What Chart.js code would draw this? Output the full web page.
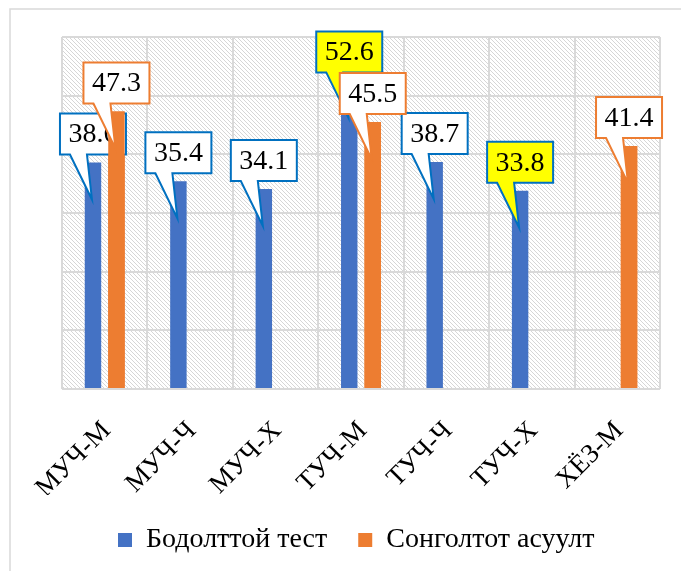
<!DOCTYPE html>
<html>
<head>
<meta charset="utf-8">
<script src="https://cdn.jsdelivr.net/npm/chart.js@4.4.1/dist/chart.umd.min.js"></script>
<style>
  html, body { margin: 0; padding: 0; background: #ffffff; }
  canvas { display: block; }
</style>
</head>
<body>
<canvas id="scoreChart" width="681" height="571"></canvas>
<script>
// Ангилал ба утгууд
const categories = ['МУЧ-М', 'МУЧ-Ч', 'МУЧ-Х', 'ТУЧ-М', 'ТУЧ-Ч', 'ТУЧ-Х', 'ХЁЗ-М'];
const seriesNames = ['Бодолттой тест', 'Сонголтот асуулт'];
const testScores = [38.6, 35.4, 34.1, 52.6, 38.7, 33.8, null];
const choiceScores = [47.3, null, null, 45.5, null, null, 41.4];
const yTicks = [0, 10, 20, 30, 40, 50, 60];

// Загвар
const fontFamily = "'Liberation Serif', 'Times New Roman', serif";
const barColors = ['#4472C4', '#ED7D31'];
const calloutBorders = ['#0070C0', '#ED7D31'];
const gridColor = '#d9d9d9';
const highlightFill = '#ffff00';
const highlighted = [[3, 5], []];  // шараар тодруулсан шошго (цувааны индекс)

// Диагональ зураастай дэвсгэр
function makeHatch(ctx) {
    const c = document.createElement('canvas');
    c.width = 8; c.height = 8;
    const g = c.getContext('2d');
    g.fillStyle = '#ffffff';
    g.fillRect(0, 0, 8, 8);
    g.fillStyle = '#d6d6d6';
    for (let i = 0; i < 8; i++) {
        g.fillRect(i, i, 1, 1);
        g.fillRect((i + 4) % 8, i, 1, 1);
    }
    return ctx.createPattern(c, 'repeat');
}

const backgroundPlugin = {
    id: 'background',
    beforeDraw(chart) {
        const {ctx, chartArea} = chart;
        ctx.save();
        ctx.fillStyle = '#ffffff';
        ctx.fillRect(0, 0, chart.width, chart.height);
        ctx.strokeStyle = gridColor;
        ctx.lineWidth = 1.5;
        ctx.strokeRect(10, 9, chart.width + 20, chart.height + 20);
        ctx.fillStyle = makeHatch(ctx);
        ctx.fillRect(chartArea.left, chartArea.top, chartArea.right - chartArea.left, chartArea.bottom - chartArea.top);
        ctx.restore();
    },
    afterLayout(chart) {
        // легендийг зүүн тийш бага зэрэг шилжүүлэх
        chart.legend.left = 87;
    }
};

// Сум бүхий тайлбар хайрцаг
function drawCallout(ctx, x, top, text, border, fill) {
    const w = 66, h = 41;
    const left = x - w / 2;
    const bottom = top - 8;
    const upper = bottom - h;
    ctx.save();
    ctx.beginPath();
    ctx.moveTo(left, upper);
    ctx.lineTo(left + w, upper);
    ctx.lineTo(left + w, bottom);
    ctx.lineTo(x - 6, bottom);
    ctx.lineTo(x - 1, top + 37);
    ctx.lineTo(x - 23, bottom);
    ctx.lineTo(left, bottom);
    ctx.closePath();
    ctx.fillStyle = fill;
    ctx.fill();
    ctx.lineWidth = 2;
    ctx.lineJoin = 'miter';
    ctx.strokeStyle = border;
    ctx.stroke();
    ctx.fillStyle = '#000000';
    ctx.font = '28px ' + fontFamily;
    ctx.textAlign = 'center';
    ctx.textBaseline = 'middle';
    ctx.fillText(text, x, upper + h / 2 + 1);
    ctx.restore();
}

function drawDatasetCallouts(chart, di) {
    const meta = chart.getDatasetMeta(di);
    const values = chart.data.datasets[di].data;
    meta.data.forEach((bar, i) => {
        if (values[i] === null) return;
        const p = bar.getProps(['x', 'y'], true);
        const fill = highlighted[di].includes(i) ? highlightFill : '#ffffff';
        drawCallout(chart.ctx, p.x, p.y, values[i].toFixed(1), calloutBorders[di], fill);
    });
}

const calloutPlugin = {
    id: 'callouts',
    afterDatasetsDraw(chart) {
        drawDatasetCallouts(chart, 0);
        // улбар шар баганыг цэнхэр шошгоны дээр дахин зурна
        chart.getDatasetMeta(1).controller.draw();
        drawDatasetCallouts(chart, 1);
    }
};

const ctx = document.getElementById('scoreChart').getContext('2d');
const scoreChart = new Chart(ctx, {
    type: 'bar',
    data: {
        labels: categories,
        datasets: [{
            label: seriesNames[0],
            data: testScores,
            backgroundColor: barColors[0],
            borderWidth: 0,
            categoryPercentage: 0.55,
            barPercentage: 0.7
        }, {
            label: seriesNames[1],
            data: choiceScores,
            backgroundColor: barColors[1],
            borderWidth: 0,
            categoryPercentage: 0.55,
            barPercentage: 0.7
        }]
    },
    options: {
        responsive: false,
        animation: false,
        layout: {
            padding: { left: 62, right: 21, top: 37, bottom: 7 }
        },
        plugins: {
            legend: {
                position: 'bottom',
                align: 'start',
                labels: {
                    font: { family: fontFamily, size: 28 },
                    color: '#000000',
                    boxWidth: 14,
                    boxHeight: 14,
                    padding: 31
                }
            },
            tooltip: { enabled: false }
        },
        scales: {
            x: {
                grid: { color: gridColor, lineWidth: 2, offset: true, drawTicks: false },
                border: { display: false },
                ticks: {
                    font: { family: fontFamily, size: 27 },
                    color: '#000000',
                    minRotation: 45,
                    maxRotation: 45,
                    autoSkip: false,
                    padding: 26,
                    labelOffset: 2
                },
                afterFit(scale) { scale.height = 106; }
            },
            y: {
                min: yTicks[0],
                max: yTicks[yTicks.length - 1],
                afterBuildTicks(scale) { scale.ticks = yTicks.map(v => ({ value: v })); },
                grid: { color: gridColor, lineWidth: 2, drawTicks: false },
                border: { display: false },
                ticks: { display: false },
                afterFit(scale) { scale.width = 0; }
            }
        }
    },
    plugins: [backgroundPlugin, calloutPlugin]
});
</script>
</body>
</html>
